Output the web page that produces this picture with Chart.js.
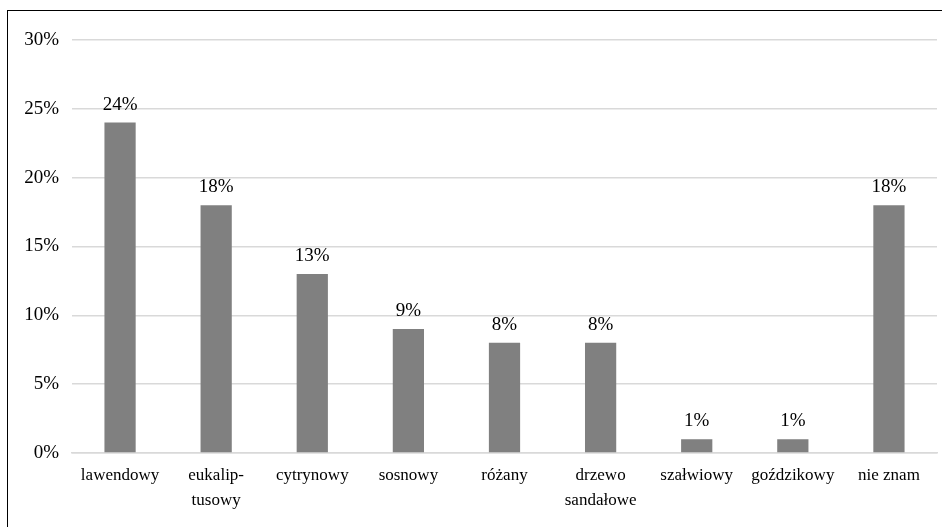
<!DOCTYPE html>
<html lang="pl">
<head>
<meta charset="utf-8">
<title>Zapachy olejków</title>
<script src="https://cdn.jsdelivr.net/npm/chart.js"></script>
<style>
  html, body { margin: 0; padding: 0; background: #fff; }
  #wrap { position: relative; width: 942px; height: 527px; }
  #frame { position: absolute; left: 7px; top: 10px; right: -5px; bottom: -5px;
           border-left: 1.5px solid #000; border-top: 1.5px solid #000; pointer-events: none; }
  canvas { position: absolute; left: 0; top: 0; }
</style>
</head>
<body>
<div id="wrap">
  <canvas id="chart" width="942" height="527"></canvas>
  <div id="frame"></div>
</div>
<script>
  // categories (multi-line ones split into arrays)
  const categories = [
    'lawendowy',
    ['eukalip-', 'tusowy'],
    'cytrynowy',
    'sosnowy',
    'różany',
    ['drzewo', 'sandałowe'],
    'szałwiowy',
    'goździkowy',
    'nie znam'
  ];
  // share of answers, in percent
  const values = [24, 18, 13, 9, 8, 8, 1, 1, 18];

  const serif = '"Liberation Serif", "Times New Roman", serif';

  // writes the value above each bar
  const valueLabels = {
    id: 'valueLabels',
    afterDatasetsDraw(chart) {
      const ctx = chart.ctx;
      const meta = chart.getDatasetMeta(0);
      ctx.save();
      ctx.font = '19px ' + serif;
      ctx.fillStyle = '#000';
      ctx.textAlign = 'center';
      ctx.textBaseline = 'alphabetic';
      meta.data.forEach((bar, i) => {
        ctx.fillText(values[i] + '%', bar.x, bar.y - 13);
      });
      ctx.restore();
    }
  };

  new Chart(document.getElementById('chart'), {
    type: 'bar',
    data: {
      labels: categories,
      datasets: [{
        data: values,
        backgroundColor: '#808080',
        borderWidth: 0,
        barPercentage: 0.65,
        categoryPercentage: 0.5
      }]
    },
    options: {
      responsive: false,
      animation: false,
      layout: { padding: { top: 40, right: 5, left: 0, bottom: 0 } },
      plugins: {
        legend: { display: false },
        tooltip: { enabled: false }
      },
      scales: {
        x: {
          grid: { display: false, drawTicks: false },
          border: { color: '#d9d9d9', width: 1.5 },
          ticks: {
            color: '#000',
            font: { family: serif, size: 17, lineHeight: 1.47 },
            padding: 10,
            maxRotation: 0,
            autoSkip: false
          },
          afterFit(scale) { scale.height = 74; }
        },
        y: {
          min: 0,
          max: 30,
          grid: { color: '#d9d9d9', lineWidth: 1.5, drawTicks: false },
          border: { display: false },
          ticks: {
            stepSize: 5,
            color: '#000',
            font: { family: serif, size: 19 },
            padding: 13,
            callback: v => v + '%'
          },
          afterFit(scale) { scale.width = 72; }
        }
      }
    },
    plugins: [valueLabels]
  });
</script>
</body>
</html>
